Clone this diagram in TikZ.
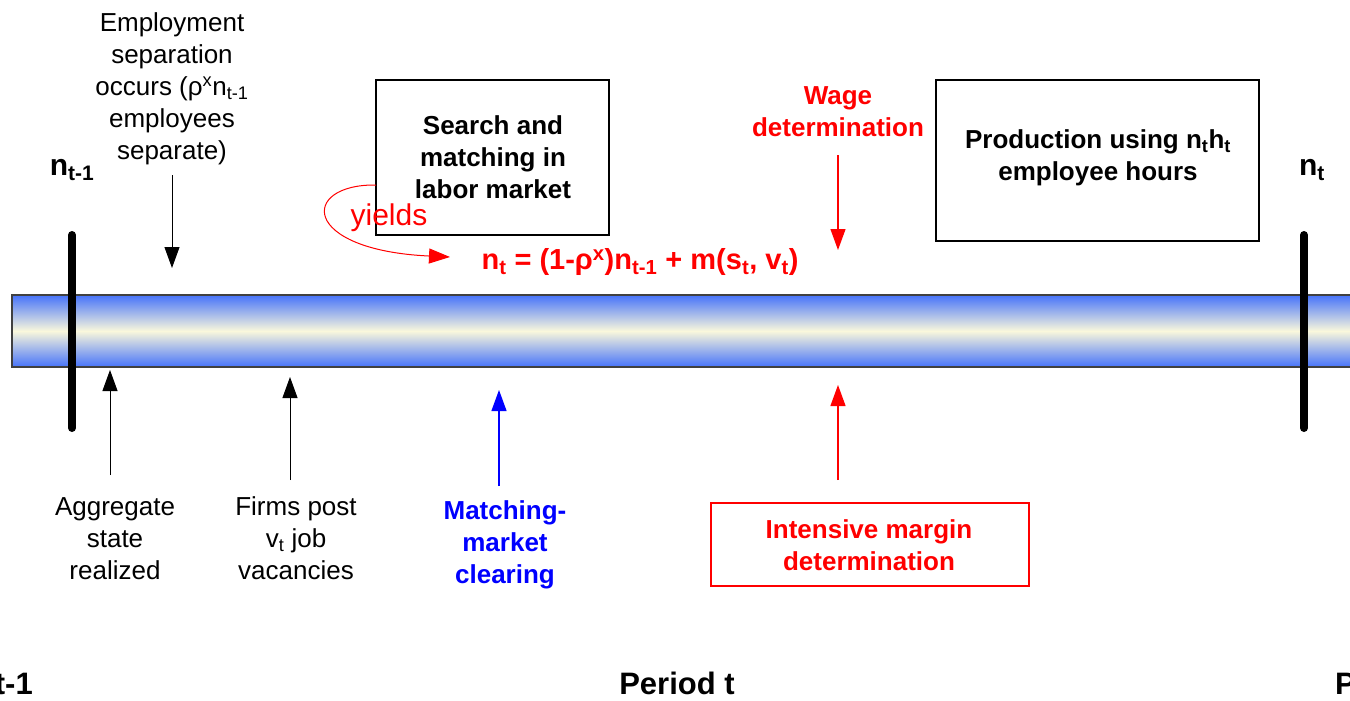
\documentclass[tikz,border=0pt]{standalone}
\usepackage{fontspec}
\setmainfont{Liberation Sans}
\usetikzlibrary{arrows.meta}
\definecolor{barblue}{RGB}{70,115,250}
\definecolor{barcream}{RGB}{250,248,220}
\definecolor{myred}{RGB}{255,0,0}
\definecolor{myblue}{RGB}{0,0,255}
\begin{document}
\begin{tikzpicture}[x=1pt,y=-1pt,
  txt/.style={align=center,font=\fontsize{26}{32}\selectfont,inner sep=0pt},
  btxt/.style={txt,font=\fontsize{26}{32}\selectfont\bfseries},
  evbox/.style={draw,line width=1.6pt,minimum width=0pt},
  tip/.style={-{Triangle[length=21pt,width=15pt]}},
  tick/.style={line width=8pt,line cap=round},
  big/.style={font=\fontsize{30}{34}\selectfont\bfseries,inner sep=0pt},
  per/.style={font=\fontsize{31}{34}\selectfont\bfseries,inner sep=0pt}
]
\useasboundingbox (0,0) rectangle (1350,701);
\clip (0,0) rectangle (1350,701);
% time bar
\path[draw=black!75,line width=1.2pt,top color=barblue,bottom color=barblue,middle color=barcream]
  (12,295) rectangle (1360,367);
\coordinate (tl1) at (72,235); \coordinate (tl2) at (72,428);
\coordinate (tr1) at (1304,235); \coordinate (tr2) at (1304,428);
\draw[tick] (tl1) -- (tl2);
\draw[tick] (tr1) -- (tr2);
\node[big] (ntm) at (72,170) {n\textsubscript{t-1}};
\node[big] (nt) at (1312,170) {n\textsubscript{t}};
% employment separation
\node[txt] (sep) at (172,89) {Employment\\separation\\occurs (ρ\textsuperscript{x}n\textsubscript{t-1}\\employees\\separate)};
\coordinate (sepA) at (172,175); \coordinate (sepB) at (172,268);
\draw[tip,line width=1pt] (sepA) -- (sepB);
% search box
\draw[evbox] (376,80) rectangle (609,235);
\node[btxt] (search) at (493,157) {Search and\\matching in\\labor market};
\coordinate (ys) at (376,185);
\coordinate (ye) at (450,257);
\draw[myred,line width=1pt,tip] (ys) .. controls (300,184) and (300,250) .. (ye);
\node[txt,text=myred,font=\fontsize{30}{34}\selectfont] (yields) at (389,218) {yields};
\node[btxt,text=myred,font=\fontsize{29}{34}\selectfont\bfseries] (eq) at (640,262)
  {n\textsubscript{t} = (1-ρ\textsuperscript{x})n\textsubscript{t-1} + m(s\textsubscript{t}, v\textsubscript{t})};
% wage
\node[btxt,text=myred] (wage) at (838,112) {Wage\\determination};
\coordinate (wA) at (838,155); \coordinate (wB) at (838,250);
\draw[myred,line width=1.2pt,tip] (wA) -- (wB);
% production
\draw[evbox] (936,80) rectangle (1259,241);
\node[btxt] (prod) at (1098,158) {Production using n\textsubscript{t}h\textsubscript{t}\\employee hours};
% below
\node[txt] (agg) at (115,539) {Aggregate\\state\\realized};
\coordinate (aA) at (110,475); \coordinate (aB) at (110,370);
\draw[tip,line width=1pt] (aA) -- (aB);
\node[txt] (firms) at (296,538) {Firms post\\v\textsubscript{t} job\\vacancies};
\coordinate (fA) at (290,480); \coordinate (fB) at (290,377);
\draw[tip,line width=1pt] (fA) -- (fB);
\node[btxt,text=myblue] (match) at (505,545) {Matching-\\market\\clearing};
\coordinate (mA) at (499,486); \coordinate (mB) at (499,390);
\draw[myblue,line width=1.2pt,tip] (mA) -- (mB);
\draw[myred,line width=1.6pt] (711,503) rectangle (1029,586);
\node[btxt,text=myred] (int) at (869,545) {Intensive margin\\determination};
\coordinate (iA) at (838,480); \coordinate (iB) at (838,385);
\draw[myred,line width=1.2pt,tip] (iA) -- (iB);
% periods
\node[per,anchor=base east] (pm) at (33,694) {Period t-1};
\node[per,anchor=base] (p) at (677,694) {Period t};
\node[per,anchor=base west] (pp) at (1335,694) {Period t+1};
\end{tikzpicture}
\end{document}
